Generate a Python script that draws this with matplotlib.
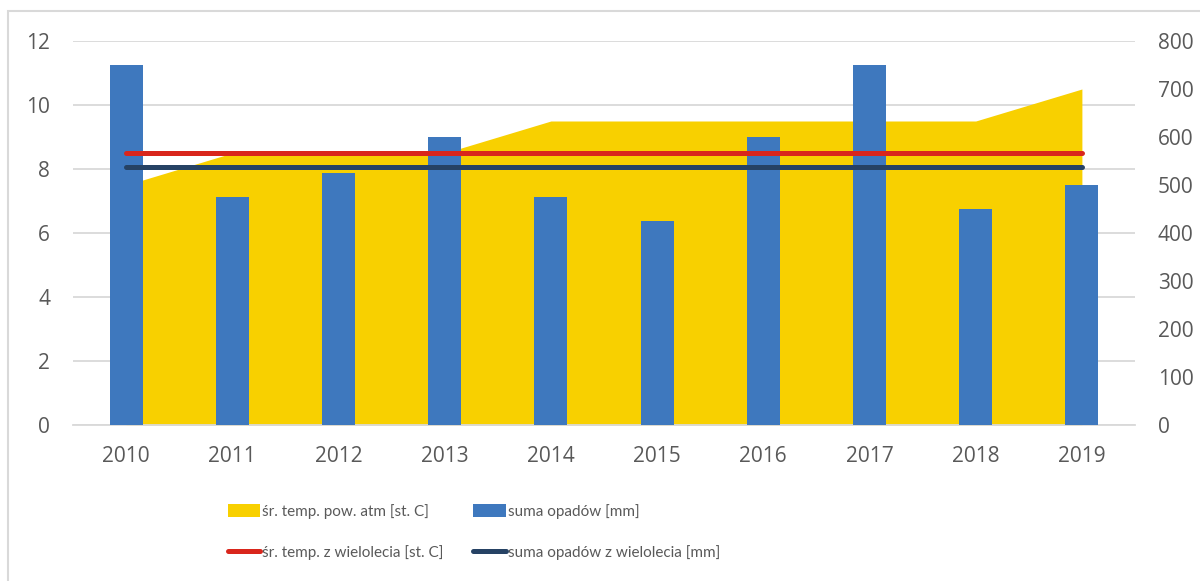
import matplotlib
matplotlib.use("Agg")
import matplotlib.pyplot as plt
from matplotlib.patches import Rectangle, Patch
from matplotlib.lines import Line2D

years = ["2010", "2011", "2012", "2013", "2014", "2015", "2016", "2017", "2018", "2019"]
temp = [7.5, 8.5, 8.5, 8.5, 9.5, 9.5, 9.5, 9.5, 9.5, 10.5]
rain = [750, 475, 525, 600, 475, 425, 600, 750, 450, 500]
temp_avg = 8.5
rain_avg = 537

YELLOW = "#F8D000"
BLUE = "#3E78BE"
RED = "#D9261C"
NAVY = "#264264"
TEXT = "#595959"
GRID = "#D9D9D9"

plt.rcParams["font.family"] = ["Open Sans", "DejaVu Sans"]

fig = plt.figure(figsize=(12, 5.81), dpi=100)
W, H = 1200, 581
ax = fig.add_axes([73 / W, 1 - 425 / H, (1135 - 73) / W, (425 - 41) / H])
ax2 = ax.twinx()
ax3 = ax.twinx()

x = list(range(len(years)))

# left axis: temperature area
ax.fill_between(x, temp, 0, color=YELLOW, linewidth=0, zorder=2)
ax.set_ylim(0, 12)
ax.set_yticks(range(0, 13, 2))
ax.set_xlim(-0.5, len(years) - 0.5)
ax.set_xticks(x)
ax.set_xticklabels(years)
ax.grid(axis="y", color=GRID, linewidth=1.3, zorder=0)
ax.set_axisbelow(True)

# right axis: precipitation bars + long-term line
ax2.bar(x, rain, width=0.31, color=BLUE, zorder=2)
ax2.plot(x, [rain_avg] * len(x), color=NAVY, linewidth=3.6,
         solid_capstyle="round", zorder=3)
ax2.set_ylim(0, 800)
ax2.set_yticks(range(0, 801, 100))

# top layer: temperature long-term line on the left scale
ax3.plot(x, [temp_avg] * len(x), color=RED, linewidth=3.6,
         solid_capstyle="round", zorder=3)
ax3.set_ylim(0, 12)
ax3.set_yticks([])

for a in (ax, ax2, ax3):
    for s in a.spines.values():
        s.set_visible(False)
    a.patch.set_visible(False)
ax.spines["bottom"].set_visible(True)
ax.spines["bottom"].set_color(GRID)
ax.spines["bottom"].set_linewidth(1.3)

ax.tick_params(axis="y", length=0, pad=16.5, labelsize=15, labelcolor=TEXT)
ax.tick_params(axis="x", length=0, pad=15, labelsize=15, labelcolor=TEXT)
ax2.tick_params(axis="y", length=0, pad=16.5, labelsize=15, labelcolor=TEXT)

# chart area border
fig.patches.append(Rectangle((8 / W, -0.1), 1.2, 1 - 11 / H + 0.1,
                             transform=fig.transFigure, fill=False,
                             edgecolor=GRID, linewidth=1.5))

handles = [
    Patch(facecolor=YELLOW, edgecolor="none"),
    Line2D([0], [0], color=RED, linewidth=3.6, solid_capstyle="round"),
    Patch(facecolor=BLUE, edgecolor="none"),
    Line2D([0], [0], color=NAVY, linewidth=3.6, solid_capstyle="round"),
]
labels = [
    "śr. temp. pow. atm [st. C]",
    "śr. temp. z wielolecia [st. C]",
    "suma opadów [mm]",
    "suma opadów z wielolecia [mm]",
]
leg = fig.legend(handles, labels, ncol=2, loc="center left",
                 bbox_to_anchor=(220 / W, 1 - 532 / H), frameon=False,
                 prop={"family": ["Lato", "DejaVu Sans"], "size": 11},
                 handlelength=2.15, handleheight=0.85, handletextpad=0.13,
                 columnspacing=1.9, labelspacing=1.73, borderpad=0)
for t in leg.get_texts():
    t.set_color(TEXT)

fig.savefig("out.png", dpi=100)
